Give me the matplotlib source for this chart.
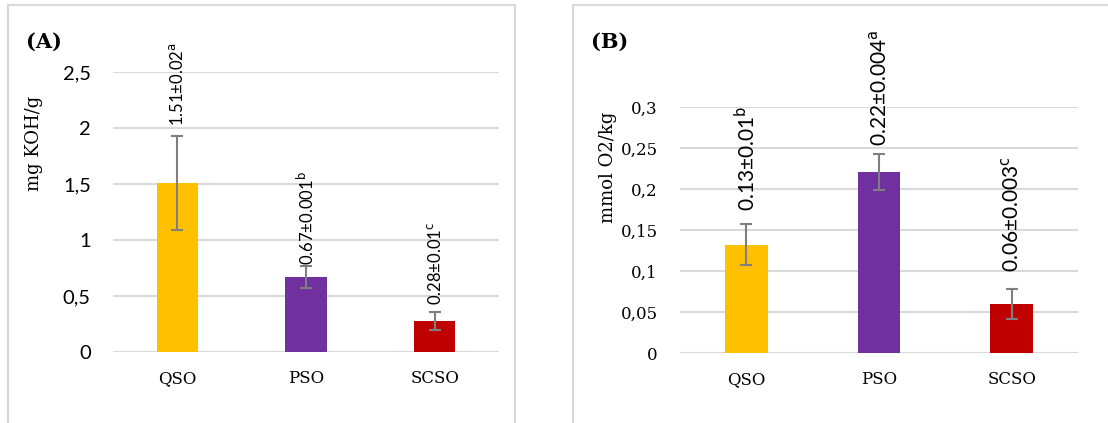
import matplotlib.pyplot as plt
from matplotlib.patches import Rectangle

categories = ['QSO', 'PSO', 'SCSO']
colors = ['#FFC000', '#7030A0', '#C00000']

# (A) acid value
acid = [1.51, 0.67, 0.28]
acid_err = [0.42, 0.10, 0.08]
acid_labels = ['1.51±0.02$^{\\mathrm{a}}$', '0.67±0.001$^{\\mathrm{b}}$',
               '0.28±0.01$^{\\mathrm{c}}$']
acid_ticks = ['0', '0,5', '1', '1,5', '2', '2,5']

# (B) peroxide value
perox = [0.132, 0.221, 0.060]
perox_err = [0.025, 0.022, 0.018]
perox_labels = ['0.13±0.01$^{\\mathrm{b}}$', '0.22±0.004$^{\\mathrm{a}}$',
                '0.06±0.003$^{\\mathrm{c}}$']
perox_ticks = ['0', '0,05', '0,1', '0,15', '0,2', '0,25', '0,3']

W, H = 1108, 423
fig = plt.figure(figsize=(W / 100, H / 100), dpi=100)


def px(x0, y_top, x1, y_bot):
    return [x0 / W, 1 - y_bot / H, (x1 - x0) / W, (y_bot - y_top) / H]


def panel(rect, vals, errs, labels, ticks, step, ymax, ylabel,
          tickfont, ticksize, labsize, gaps):
    ax = fig.add_axes(rect)
    x = range(len(categories))
    ax.bar(x, vals, width=0.32, color=colors, zorder=3)
    ax.errorbar(x, vals, yerr=errs, fmt='none', ecolor='#7f7f7f',
                elinewidth=1.5, capsize=4, capthick=1.5, zorder=4)
    for i in x:
        ax.annotate(labels[i], (i, vals[i] + errs[i]), xytext=(0, gaps[i]),
                    textcoords='offset pixels', rotation=90, ha='center',
                    va='bottom', fontsize=labsize, family='Lato')
    ax.set_xlim(-0.5, len(categories) - 0.5)
    ax.set_ylim(0, ymax)
    yt = [i * step for i in range(len(ticks))]
    ax.set_yticks(yt)
    ax.set_yticklabels(ticks, family=tickfont, fontsize=ticksize)
    ax.set_xticks(list(x))
    ax.set_xticklabels(categories, family='DejaVu Serif', fontsize=12)
    ax.tick_params(length=0)
    ax.tick_params(axis='y', pad=16)
    ax.tick_params(axis='x', pad=13)
    for s in ax.spines.values():
        s.set_visible(False)
    ax.grid(axis='y', color='#d9d9d9', lw=1.5, zorder=0)
    ax.set_ylabel(ylabel, family='DejaVu Serif', fontsize=13)
    return ax


axA = panel(px(113, 72, 499, 352), acid, acid_err, acid_labels, acid_ticks,
            0.5, 2.5, 'mg KOH/g', 'Lato', 14.5, 12, [10, 1, 7])
axA.yaxis.set_label_coords(-0.182, 0.745)
axB = panel(px(680, 107, 1078, 353), perox, perox_err, perox_labels, perox_ticks,
            0.05, 0.3, 'mmol O2/kg', 'DejaVu Serif', 12, 15, [13, 8, 17])
axB.yaxis.set_label_coords(-0.158, 0.755)

fig.text(26 / W, 1 - 42 / H, '(A)', family='DejaVu Serif', weight='bold',
         fontsize=15, va='center')
fig.text(591 / W, 1 - 42 / H, '(B)', family='DejaVu Serif', weight='bold',
         fontsize=15, va='center')

fig.add_artist(Rectangle((8 / W, -0.1), 507 / W, 1.1 - 5 / H,
                         transform=fig.transFigure, fill=False,
                         edgecolor='#d9d9d9', lw=1.5))
fig.add_artist(Rectangle((573 / W, -0.1), 600 / W, 1.1 - 5 / H,
                         transform=fig.transFigure, fill=False,
                         edgecolor='#d9d9d9', lw=1.5))

plt.savefig('out.png', dpi=100)
